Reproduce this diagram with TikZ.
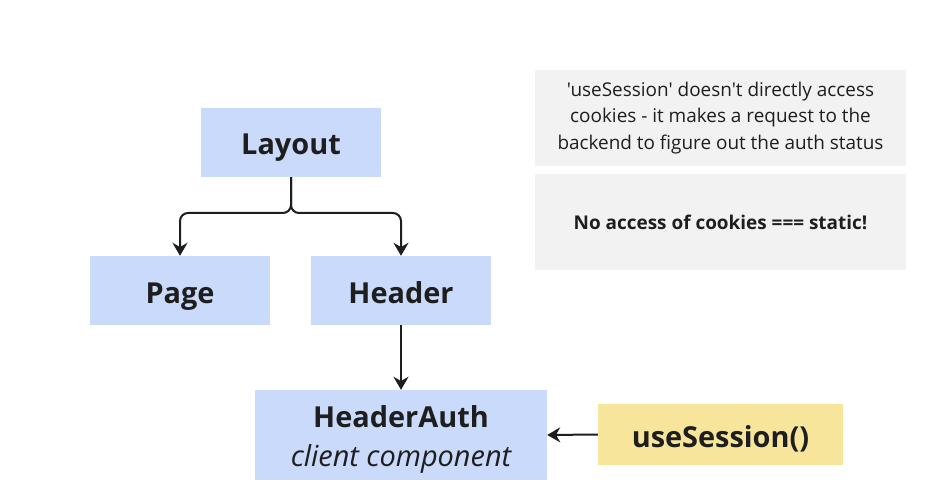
\documentclass[tikz,border=0pt]{standalone}
\usepackage{fontspec}
\setmainfont{Open Sans}[Ligatures=TeXOff]
\usetikzlibrary{arrows.meta,positioning}
\definecolor{boxblue}{HTML}{C9DAFA}
\definecolor{boxyellow}{HTML}{F8E59C}
\definecolor{notegray}{HTML}{F2F2F2}
\definecolor{inkdark}{HTML}{1E1E1E}

\begin{document}
\begin{tikzpicture}[x=1bp, y=-1bp,
    comp/.style={fill=boxblue, text=inkdark, inner sep=0pt, minimum width=180bp, minimum height=69bp, text height=25bp, text depth=0pt, font=\fontsize{29}{39}\selectfont\bfseries},
    hook/.style={fill=boxyellow, text=inkdark, inner sep=0pt, minimum width=245bp, minimum height=61bp, text height=25bp, text depth=0pt, font=\fontsize{29}{34}\selectfont\bfseries},
    note/.style={fill=notegray, text=inkdark, inner sep=0pt, minimum width=371bp, minimum height=96bp, align=center, font=\fontsize{19}{26.5}\selectfont},
    link/.style={-{Stealth[length=13bp, width=15bp]}, line width=2bp, draw=inkdark, rounded corners=8bp}]
    % canvas
    \useasboundingbox (0,0) rectangle (933,501);

    % component tree
    \node[comp] (layout) at (291,142.5) {Layout};
    \node[comp] (page) at (180,290.5) {Page};
    \node[comp] (header) at (401,290.5) {Header};
    \node[comp, minimum width=292bp, minimum height=90bp, text height=70bp, text depth=8bp, align=center] (headerauth) at (401,435)
        {HeaderAuth\\{\mdseries\itshape client component}};

    % hook
    \node[hook] (session) at (720.5,434.5) {useSession()};

    % notes
    \node[note] (info) at (720.5,118) {'useSession' doesn't directly access\\cookies - it makes a request to the\\backend to figure out the auth status};
    \node[note, font=\fontsize{19}{23}\selectfont\bfseries] (verdict) at (720.5,222) {No access of cookies === static!};

    % arrows
    \coordinate (split) at (291,213);
    \draw[link] (layout.south) -- (split) -| (page.north);
    \draw[link] (layout.south) -- (split) -| (header.north);
    \draw[link] (header.south) -- (headerauth.north);
    \draw[link] (session.west) -- (headerauth.east);
\end{tikzpicture}
\end{document}
